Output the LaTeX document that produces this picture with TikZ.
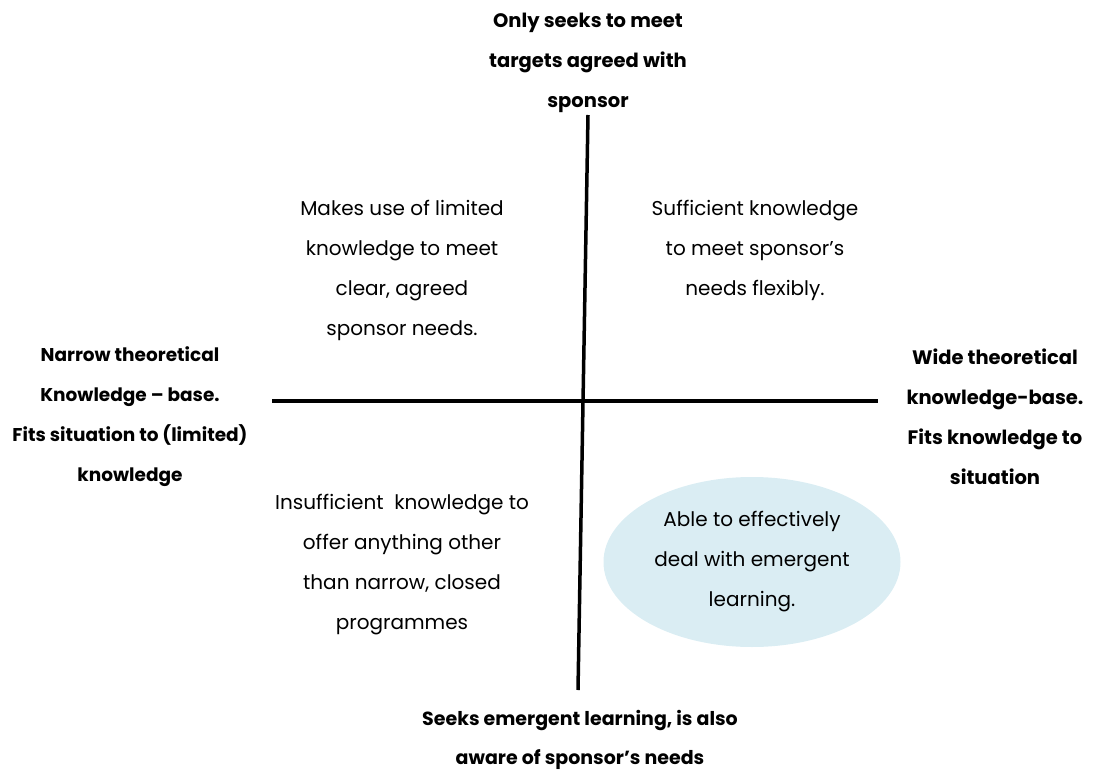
\documentclass[tikz,border=0pt]{standalone}
\usepackage{fontspec}
\setmainfont{Poppins}
\usepackage{xcolor}
\usetikzlibrary{positioning, shapes.geometric}

\definecolor{paleblue}{HTML}{DAEDF3}

\begin{document}
\begin{tikzpicture}[
    x=1pt, y=-1pt,
    pole/.style={align=center, font=\fontsize{19.5}{40}\selectfont\bfseries, inner sep=0pt},
    quadrant/.style={align=center, font=\fontsize{20}{40}\selectfont, inner sep=0pt},
    blob/.style={ellipse, fill=paleblue, minimum width=297pt, minimum height=170pt, align=center, font=\fontsize{20}{40}\selectfont, inner sep=0pt},
    axis/.style={line width=3.5pt}
]
\useasboundingbox (0,0) rectangle (1093,773);

% quadrant bubble first so the axes stay on top
\node [blob] (emergent) at (752,562) {Able to effectively\\ deal with emergent\\ learning.};

% axes
\coordinate (north) at (588,115);
\coordinate (south) at (578,690);
\coordinate (west) at (272,401);
\coordinate (east) at (878,401);
\draw [axis] (north) -- (south);
\draw [axis] (west) -- (east);

% poles
\node [pole] (targets) at (588,63) {Only seeks to meet\\ targets agreed with\\ sponsor};
\node [pole, font=\fontsize{18.5}{40}\selectfont\bfseries] (narrow) at (130,417) {Narrow theoretical\\ Knowledge -- base.\\ Fits situation to (limited)\\ knowledge};
\node [pole] (wide) at (995,417) {Wide theoretical\\ knowledge-base.\\ Fits knowledge to\\ situation};
\node [pole, font=\fontsize{19}{39}\selectfont\bfseries] (seeks) at (580,740) {Seeks emergent learning, is also\\ aware of sponsor's needs};

% quadrants
\node [quadrant] (limited) at (402,270) {Makes use of limited\\ knowledge to meet\\ clear, agreed\\ sponsor needs.};
\node [quadrant] (sufficient) at (755,250) {Sufficient knowledge\\ to meet sponsor's\\ needs flexibly.};
\node [quadrant] (insufficient) at (402,565) {Insufficient\ \ knowledge to\\ offer anything other\\ than narrow, closed\\ programmes};

\end{tikzpicture}
\end{document}
